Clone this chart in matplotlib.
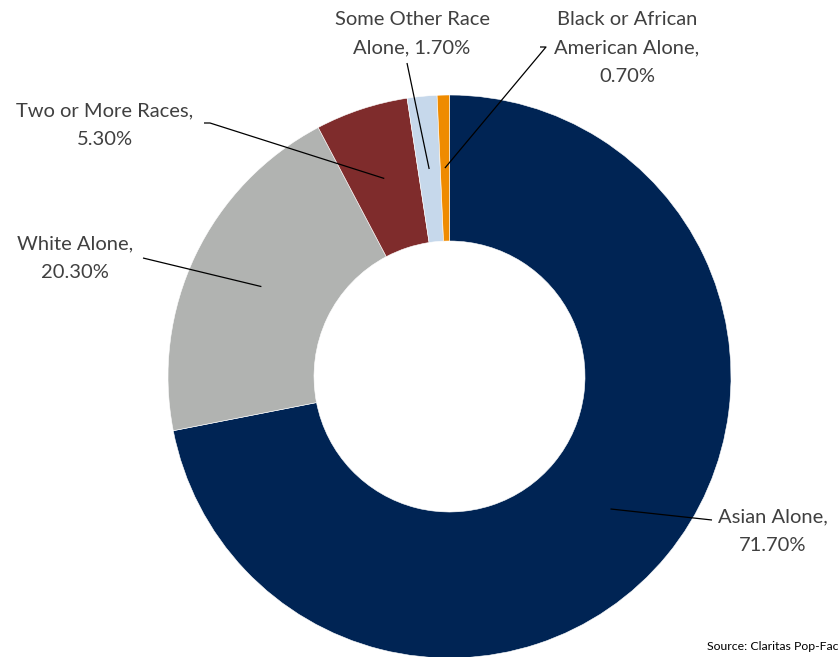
import numpy as np
import matplotlib
matplotlib.use("Agg")
import matplotlib.pyplot as plt

plt.rcParams['font.family'] = ['Lato', 'DejaVu Sans']

# Data (percent of population)
categories = ["Asian Alone", "White Alone", "Two or More Races",
              "Some Other Race Alone", "Black or African American Alone"]
values = [71.7, 20.3, 5.3, 1.7, 0.7]
labels = ["Asian Alone,\n71.70%", "White Alone,\n20.30%", "Two or More Races,\n5.30%",
          "Some Other Race\nAlone, 1.70%", "Black or African\nAmerican Alone,\n0.70%"]
colors = ["#002454", "#b1b3b1", "#7f2c2c", "#c6d8eb", "#ef8b00"]

W, H = 838, 657
TEXT = "#404040"

# layout in pixel coordinates (y measured from the top)
center_px = (449.5, 376.5)
radius = 281.5
ring = 146
label_pos = [(773, 531), (75, 258), (105, 125), (412, 34), (627, 48)]
leader_start = [(712, 520), (143, 258), (210, 123), (407, 63), (546, 47)]
stub_len = [0, 0, 6, 0, 6]

fig = plt.figure(figsize=(W / 100, H / 100), dpi=100)
ax = fig.add_axes([0, 0, 1, 1])

def fy(y):
    return H - y

cx, cy = center_px[0], fy(center_px[1])
wedges, _ = ax.pie(values, colors=colors, startangle=90, counterclock=False,
                   radius=radius, center=(cx, cy),
                   wedgeprops=dict(width=ring, edgecolor="white", linewidth=0.4))

mid_r = radius - ring / 2
for w, lab, (tx, ty), (sx, sy), stub in zip(wedges, labels, label_pos, leader_start, stub_len):
    ang = np.deg2rad((w.theta1 + w.theta2) / 2)
    px = cx + mid_r * np.cos(ang)
    py = cy + mid_r * np.sin(ang)
    xs, ys = [sx], [fy(sy)]
    if stub:
        # short horizontal tick next to the label, then the leader
        xs = [sx - stub, sx]
        ys = [fy(sy), fy(sy)]
    ax.plot(xs + [px], ys + [py], color="black", linewidth=0.9, solid_capstyle="butt")
    ax.text(tx, fy(ty), lab, ha="center", va="center", fontsize=14.5,
            color=TEXT, linespacing=1.8)

ax.text(707, fy(647), "Source: Claritas Pop-Facts", ha="left", va="center",
        fontsize=8.8, color="black")

ax.set_xlim(0, W)
ax.set_ylim(0, H)
ax.set_aspect("equal")
ax.axis("off")

fig.savefig("out.png", dpi=100)
